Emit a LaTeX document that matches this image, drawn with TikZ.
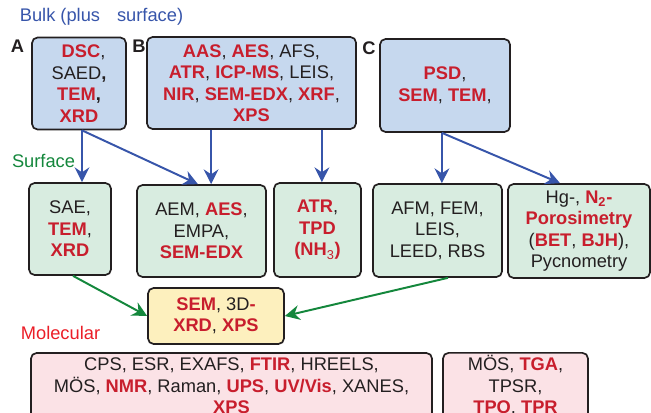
\documentclass[tikz,border=0pt]{standalone}
\usepackage{fontspec}
\setmainfont{Liberation Sans}
\usetikzlibrary{arrows.meta}
\definecolor{bulkblue}{RGB}{198,216,238}
\definecolor{surfgreen}{RGB}{216,236,224}
\definecolor{semyellow}{RGB}{253,240,190}
\definecolor{molpink}{RGB}{251,226,230}
\definecolor{techred}{RGB}{200,30,45}
\definecolor{textgray}{RGB}{35,31,32}
\definecolor{arrowblue}{RGB}{55,85,170}
\definecolor{arrowgreen}{RGB}{20,135,60}
\definecolor{molred}{RGB}{235,30,40}
\newcommand{\rtech}[1]{\textbf{\textcolor{techred}{#1}}}
\tikzset{
  box/.style={draw=textgray, line width=1.2pt, rounded corners=4pt, align=center,
    text=textgray, inner sep=2pt, font=\fontsize{13}{15.3}\selectfont},
  bulkbox/.style={box, fill=bulkblue},
  surfbox/.style={box, fill=surfgreen},
  sembox/.style={box, fill=semyellow},
  molbox/.style={box, fill=molpink},
  heading/.style={font=\fontsize{13}{15.3}\selectfont},
  panel/.style={font=\fontsize{13}{15.3}\selectfont\bfseries, text=textgray},
  bluearrow/.style={draw=arrowblue, line width=1.4pt, -{Stealth[length=10.5pt,width=10.5pt,inset=3.5pt]}},
  greenarrow/.style={draw=arrowgreen, line width=1.4pt, -{Stealth[length=10.5pt,width=10.5pt,inset=3.5pt]}}
}
\begin{document}
\begin{tikzpicture}[x=0.025cm, y=-0.025cm]
  \clip (0,0) rectangle (651,413);
  % headings
  \node[heading, text=arrowblue] at (101.5,17) (bulk) {Bulk (plus\hspace{8.5pt} surface)};
  \node[heading, text=arrowgreen] at (43.5,161) (surf) {Surface};
  \node[heading, text=molred] at (60.5,333) (mol) {Molecular};
  \node[panel] at (17.5,46) (pa) {A};
  \node[panel] at (139,46) (pb) {B};
  \node[panel] at (369,48) (pc) {C};
  % bulk row
  \node[bulkbox, minimum width=2.35cm, minimum height=2.3cm] at (79,83.5) (A)
    {\hspace{0.5em}\rtech{DSC},\\ SAED\textbf{,}\\ \rtech{TEM}\textbf{,}\\ \rtech{XRD}};
  \node[bulkbox, minimum width=5.225cm, minimum height=2.3cm] at (251.5,83) (B)
    {\rtech{AAS}, \rtech{AES}, AFS,\\ \rtech{ATR}, \rtech{ICP-MS}, LEIS,\\
     \rtech{NIR}, \rtech{SEM-EDX}, \rtech{XRF},\\ \rtech{XPS}};
  \node[bulkbox, minimum width=3.25cm, minimum height=2.325cm] at (445,85.5) (C)
    {\rtech{PSD},\\ \rtech{SEM}, \rtech{TEM},};
  % surface row
  \node[surfbox, minimum width=2.05cm, minimum height=2.3cm] at (70,229) (SAE)
    {SAE,\\ \rtech{TEM},\\ \rtech{XRD}};
  \node[surfbox, minimum width=3.225cm, minimum height=2.3cm] at (201.5,231) (AEM)
    {AEM, \rtech{AES},\\ EMPA,\\ \rtech{SEM-EDX}};
  \node[surfbox, minimum width=2.175cm, minimum height=2.35cm] at (317.5,230) (ATR)
    {\rtech{ATR},\\ \rtech{TPD}\\ \rtech{(NH\textsubscript{\mdseries 3})}};
  \node[surfbox, minimum width=3.225cm, minimum height=2.325cm] at (437.5,230.5) (AFM)
    {AFM, FEM,\\ LEIS,\\ LEED, RBS};
  \node[surfbox, minimum width=3.55cm, minimum height=2.35cm] at (579,231) (Hg)
    {Hg-, \rtech{N\textsubscript{2}-}\\ \rtech{Porosimetry}\\ (\rtech{BET}, \rtech{BJH}),\\ Pycnometry};
  % combined
  \node[sembox, minimum width=3.4cm, minimum height=1.4cm] at (216,316) (SEM)
    {\rtech{SEM}, 3D\rtech{-}\\ \rtech{XRD}, \rtech{XPS}};
  % molecular row
  \node[molbox, minimum width=10.025cm, minimum height=1.65cm] at (231.5,386) (CPS)
    {CPS, ESR, EXAFS, \rtech{FTIR}, HREELS,\\
     MÖS, \rtech{NMR}, Raman, \rtech{UPS}, \rtech{UV/Vis}, XANES,\\ \rtech{XPS}};
  \node[molbox, minimum width=3.625cm, minimum height=1.65cm] at (515.5,386) (MOS)
    {MÖS, \rtech{TGA},\\ TPSR,\\ \rtech{TPO}, \rtech{TPR}};
  % arrows
  \draw[bluearrow] ([xshift=0.075cm]A.south) -- ([xshift=0.075cm]A.south |- SAE.north);
  \draw[bluearrow] ([xshift=0.075cm]A.south) -- ([xshift=-0.09cm]AEM.north);
  \draw[bluearrow] ([xshift=0.24cm]AEM.north |- B.south) -- ([xshift=0.24cm]AEM.north);
  \draw[bluearrow] ([xshift=0.11cm]ATR.north |- B.south) -- ([xshift=0.11cm]ATR.north);
  \draw[bluearrow] ([xshift=0.11cm]AFM.north |- C.south) -- ([xshift=0.11cm]AFM.north);
  \draw[bluearrow] ([xshift=0.11cm]AFM.north |- C.south) -- ([xshift=-0.475cm]Hg.north);
  \draw[greenarrow] ([xshift=0.075cm]SAE.south) -- (SEM.west);
  \draw[greenarrow] ([xshift=0.26cm]AFM.south) -- (SEM.east);
\end{tikzpicture}
\end{document}
